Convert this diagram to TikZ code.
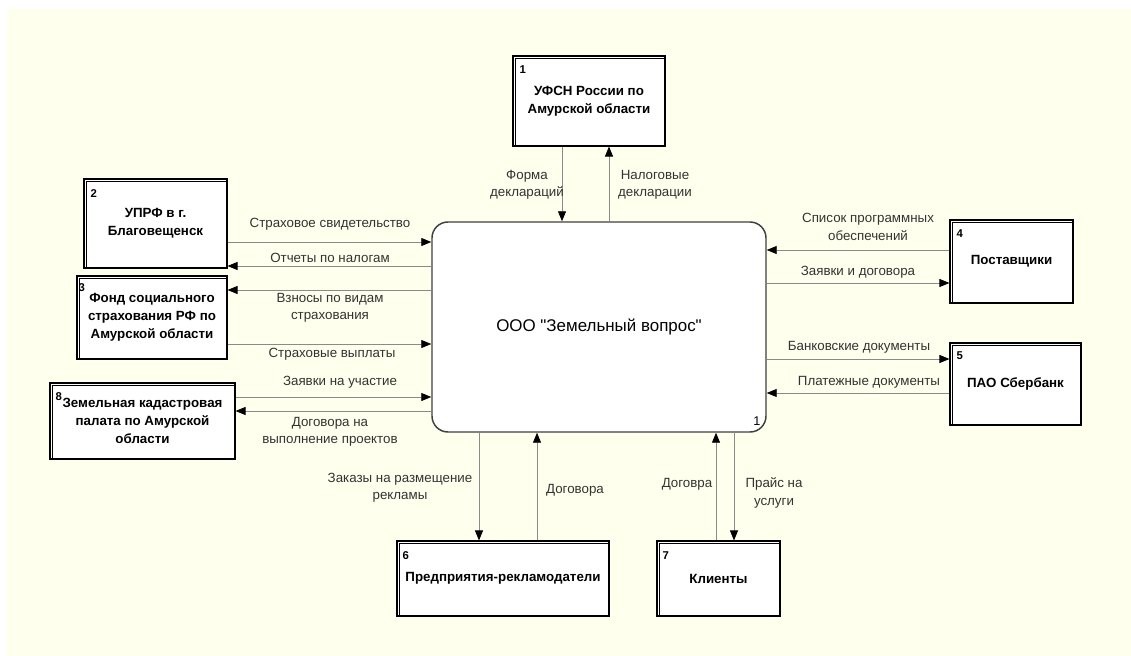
\documentclass[tikz,border=0pt]{standalone}
\usepackage{fontspec}
\setmainfont{Liberation Sans}[Ligatures=TeXOff]
\usetikzlibrary{arrows.meta,calc}
\definecolor{sheet}{HTML}{FFFFEE}
\definecolor{flowline}{HTML}{8A8A8A}
\definecolor{labeltext}{HTML}{333333}
\begin{document}
\begin{tikzpicture}[x=0.75pt,y=-0.75pt,
  ent/.style={draw=black,line width=0.8pt,fill=white,inner sep=0pt,align=center,
    font=\fontsize{10}{13.5}\selectfont\bfseries},
  shadowline/.style={draw=black,line width=0.8pt},
  num/.style={anchor=north west,inner sep=0pt,font=\fontsize{8.5}{9}\selectfont\bfseries},
  proc/.style={draw=black!75,line width=1.1pt,fill=white,rounded corners=12pt,inner sep=0pt,
    font=\fontsize{12.7}{14}\selectfont},
  flow/.style={draw=flowline,line width=0.6pt,-{Triangle[length=7.5pt,width=6pt,color=black]}},
  lbl/.style={font=\fontsize{10}{13}\selectfont,text=labeltext,align=center,inner sep=0pt}]
\useasboundingbox (0,0) rectangle (1131,656);
\fill[white] (0,0) rectangle (1131,656);
\fill[sheet] (7,9) rectangle (1131,656);

% central process
\node[proc,minimum width=250.5pt,minimum height=157.5pt] (c) at (599,327) {ООО "Земельный вопрос"};
\node[font=\fontsize{9.5}{11}\selectfont,inner sep=0pt] (cnum) at (757,421) {1};

% external entities
\node[ent,minimum width=114pt,minimum height=67.5pt] (b1) at (589,101) {УФСН России по\\Амурской области};
\node[ent,minimum width=107.25pt,minimum height=66.75pt] (b2) at (155.5,223.5) {УПРФ в г.\\Благовещенск};
\node[ent,minimum width=112.5pt,minimum height=62.25pt] (b3) at (152,317.5) {Фонд социального\\страхования РФ по\\Амурской области};
\node[ent,minimum width=92.25pt,minimum height=62.25pt] (b4) at (1011.5,261.5) {Поставщики};
\node[ent,minimum width=98.25pt,minimum height=61.5pt] (b5) at (1015.5,384) {ПАО Сбербанк};
\node[ent,minimum width=159pt,minimum height=56.25pt] (b6) at (503,578.5) {Предприятия-рекламодатели};
\node[ent,minimum width=92.25pt,minimum height=56.25pt] (b7) at (718.5,578.5) {Клиенты};
\node[ent,minimum width=138.75pt,minimum height=57pt] (b8) at (142.5,421) {Земельная кадастровая\\палата по Амурской\\области};

\foreach \b in {b1,b2,b3,b4,b5,b6,b7,b8}
  \draw[shadowline] ([xshift=2.4pt]\b.south west) -- ([xshift=2.4pt,yshift=-2.4pt]\b.north west)
    -- ([yshift=-2.4pt]\b.north east);

\node[num] (n1) at ($(b1.north west)+(7,10)$) {1};
\node[num] (n2) at ($(b2.north west)+(7,11)$) {2};
\node[num] (n3) at ($(b3.north west)+(2,8)$) {3};
\node[num] (n4) at ($(b4.north west)+(7,10)$) {4};
\node[num] (n5) at ($(b5.north west)+(7,9)$) {5};
\node[num] (n6) at ($(b6.north west)+(6,11)$) {6};
\node[num] (n7) at ($(b7.north west)+(6,11)$) {7};
\node[num] (n8) at ($(b8.north west)+(6,10)$) {8};

% flows: top
\draw[flow] (b1.south -| 562,0) -- (c.north -| 562,0);
\draw[flow] (c.north -| 609,0) -- (b1.south -| 609,0);
% flows: left
\draw[flow] (b2.east |- 0,242) -- (c.west |- 0,242);
\draw[flow] (c.west |- 0,266) -- (b2.east |- 0,266);
\draw[flow] (c.west |- 0,290) -- (b3.east |- 0,290);
\draw[flow] (b3.east |- 0,344) -- (c.west |- 0,344);
\draw[flow] (b8.east |- 0,397) -- (c.west |- 0,397);
\draw[flow] (c.west |- 0,411) -- (b8.east |- 0,411);
% flows: right
\draw[flow] (b4.west |- 0,250) -- (c.east |- 0,250);
\draw[flow] (c.east |- 0,283) -- (b4.west |- 0,283);
\draw[flow] (c.east |- 0,359) -- (b5.west |- 0,359);
\draw[flow] (b5.west |- 0,393) -- (c.east |- 0,393);
% flows: bottom
\draw[flow] (c.south -| 479,0) -- (b6.north -| 479,0);
\draw[flow] (b6.north -| 537,0) -- (c.south -| 537,0);
\draw[flow] (b7.north -| 716,0) -- (c.south -| 716,0);
\draw[flow] (c.south -| 734,0) -- (b7.north -| 734,0);

% flow labels
\node[lbl] (l1) at (527,185) {Форма\\деклараций};
\node[lbl] (l2) at (655,185) {Налоговые\\декларации};
\node[lbl] (l3) at (330,224) {Страховое свидетельство};
\node[lbl] (l4) at (330,258) {Отчеты по налогам};
\node[lbl] (l5) at (330,308) {Взносы по видам\\страхования};
\node[lbl] (l6) at (332,354) {Страховые выплаты};
\node[lbl] (l7) at (340,382) {Заявки на участие};
\node[lbl] (l8) at (330,432) {Договора на\\выполнение проектов};
\node[lbl] (l9) at (868,227) {Список программных\\обеспечений};
\node[lbl] (l10) at (858,272) {Заявки и договора};
\node[lbl] (l11) at (859,347) {Банковские документы};
\node[lbl] (l12) at (869,382) {Платежные документы};
\node[lbl] (l13) at (400,488) {Заказы на размещение\\рекламы};
\node[lbl] (l14) at (575,490) {Договора};
\node[lbl] (l15) at (687,484) {Договра};
\node[lbl] (l16) at (774,493) {Прайс на\\услуги};
\end{tikzpicture}
\end{document}
